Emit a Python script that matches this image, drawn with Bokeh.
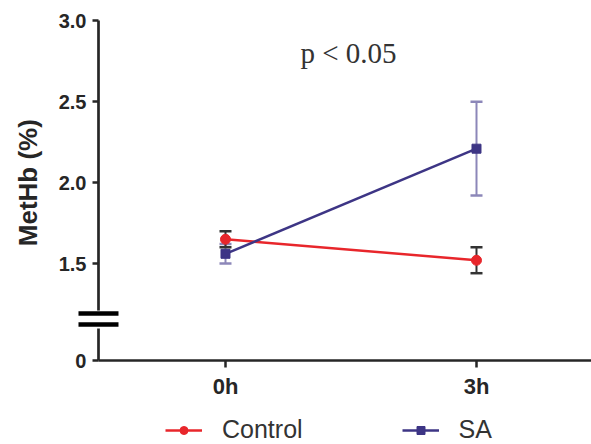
import math
from bokeh.plotting import figure
from bokeh.models import (Range1d, LinearAxis, FixedTicker, Label, Legend, LegendItem)
from bokeh.embed import file_html
from bokeh.resources import INLINE

# ---- data ----
times = ["0h", "3h"]
control_mean = [1.65, 1.52]
control_sem = [0.05, 0.08]
sa_mean = [1.56, 2.21]
sa_sem = [0.06, 0.29]
y_ticks = [1.5, 2.0, 2.5, 3.0]
y_tick_labels = ["1.5", "2.0", "2.5", "3.0"]
zero_label = "0"
annotation_text = "p < 0.05"
y_label = "MetHb (%)"

# ---- layout constants (broken axis) ----
AXIS_ZERO = 0.9          # virtual position where the "0" tick sits below the break
BREAK_LO, BREAK_HI = 1.098, 1.209
BAR_YS = [1.123, 1.191]
Y_AXIS_X = -0.506
X_MIN, X_MAX = -0.8964, 1.4582
Y_MIN, Y_MAX = 0.3807, 3.1265

RED = "#e8262b"
PURPLE = "#3d3585"
PURPLE_ERR = "#8c87b9"
DARK = "#262626"

xs = list(range(len(times)))

p = figure(width=591, height=444,
           x_range=Range1d(X_MIN, X_MAX), y_range=Range1d(Y_MIN, Y_MAX),
           x_axis_type=None, y_axis_type=None,
           toolbar_location=None, output_backend="svg",
           min_border=0, outline_line_color=None,
           background_fill_color="white", border_fill_color="white")

# ---- axes ----
overrides = {AXIS_ZERO: zero_label}
overrides.update({t: l for t, l in zip(y_ticks, y_tick_labels)})
yaxis = LinearAxis(fixed_location=Y_AXIS_X, bounds=(AXIS_ZERO, y_ticks[-1]),
                   ticker=FixedTicker(ticks=[AXIS_ZERO] + y_ticks),
                   major_label_overrides=overrides)
xaxis = LinearAxis(fixed_location=AXIS_ZERO, bounds=(Y_AXIS_X, X_MAX),
                   ticker=FixedTicker(ticks=xs),
                   major_label_overrides={x: t for x, t in zip(xs, times)})
for ax in (yaxis, xaxis):
    ax.axis_line_width = 2.7
    ax.axis_line_color = DARK
    ax.major_tick_line_width = 2.5
    ax.major_tick_line_color = DARK
    ax.major_tick_in = 0
    ax.minor_tick_line_color = None
    ax.major_label_text_font = "Liberation Sans"
    ax.major_label_text_font_style = "bold"
    ax.major_label_text_color = DARK
yaxis.major_tick_out = 6
yaxis.major_label_standoff = 6
yaxis.major_label_text_font_size = "20px"
xaxis.major_tick_out = 7
xaxis.major_label_standoff = 6
xaxis.major_label_text_font_size = "22px"
p.add_layout(yaxis, "left")
p.add_layout(xaxis, "below")

# y-axis title
p.add_layout(Label(x=27, x_units="screen", y=y_ticks[1], text=y_label,
                   angle=math.pi / 2, text_align="center", text_baseline="middle",
                   text_font="Liberation Sans", text_font_style="bold",
                   text_font_size="26px", text_color=DARK))

# ---- axis break ----
p.rect(x=[Y_AXIS_X], y=[(BREAK_LO + BREAK_HI) / 2], width=10, width_units="screen",
       height=BREAK_HI - BREAK_LO, fill_color="white", line_color=None, level="overlay")
p.rect(x=[Y_AXIS_X] * 2, y=BAR_YS, width=40, height=4.5, width_units="screen",
       height_units="screen", fill_color="black", line_color=None, level="overlay")

# ---- error bars ----
def errbars(mean, sem, color):
    lo = [m - s for m, s in zip(mean, sem)]
    hi = [m + s for m, s in zip(mean, sem)]
    p.segment(x0=xs, y0=lo, x1=xs, y1=hi, line_color=color, line_width=2)
    p.scatter(x=xs, y=lo, marker="dash", size=12, line_color=color, line_width=2.5)
    p.scatter(x=xs, y=hi, marker="dash", size=12, line_color=color, line_width=2.5)

errbars(sa_mean, sa_sem, PURPLE_ERR)
errbars(control_mean, control_sem, "#333333")

# ---- series ----
c_line = p.line(xs, control_mean, line_color=RED, line_width=2.5)
s_line = p.line(xs, sa_mean, line_color=PURPLE, line_width=2.5)
c_pts = p.scatter(xs, control_mean, marker="circle", size=10, fill_color=RED, line_color=RED)
s_pts = p.scatter(xs, sa_mean, marker="square", size=9, fill_color=PURPLE, line_color=PURPLE)

# ---- annotation ----
p.add_layout(Label(x=(xs[0] + xs[-1]) / 2 - 0.01, y=2.80, text=annotation_text,
                   text_font="Liberation Serif", text_font_size="29px",
                   text_align="center", text_baseline="alphabetic", text_color="#333333"))

# ---- legend ----
legend = Legend(items=[LegendItem(label="Control", renderers=[c_line, c_pts]),
                       LegendItem(label="SA", renderers=[s_line, s_pts])],
                orientation="horizontal", location=(165, 0), spacing=99,
                glyph_width=37, glyph_height=20, label_standoff=20,
                label_text_font="Liberation Sans", label_text_font_size="25px",
                label_text_color="#333333", padding=0, margin=0,
                border_line_color=None, background_fill_alpha=0)
p.add_layout(legend)

open("out.html", "w").write(file_html(p, INLINE))
